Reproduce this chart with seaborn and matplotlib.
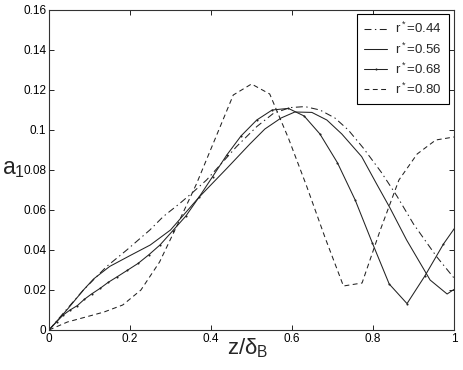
import numpy as np
import pandas as pd
import matplotlib
matplotlib.use("Agg")
import matplotlib.pyplot as plt
import seaborn as sns

# r* = 0.44 (dash-dot)
z_044 = [0, 0.04, 0.085, 0.142, 0.192, 0.249, 0.282, 0.323, 0.356, 0.389, 0.426, 0.463,
         0.513, 0.554, 0.595, 0.632, 0.669, 0.706, 0.739, 0.776, 0.82, 0.859, 0.90, 0.957, 1.0]
a_044 = [0, 0.0095, 0.020, 0.0317, 0.040, 0.050, 0.0567, 0.0633, 0.069, 0.075, 0.0833, 0.0917,
         0.1017, 0.1083, 0.1112, 0.1117, 0.110, 0.106, 0.100, 0.091, 0.079, 0.067, 0.053, 0.0367, 0.026]

# r* = 0.56 (solid)
z_056 = [0, 0.044, 0.085, 0.11, 0.15, 0.2, 0.25, 0.3, 0.37, 0.44, 0.496, 0.533,
         0.573, 0.607, 0.649, 0.686, 0.723, 0.772, 0.809, 0.842, 0.883, 0.941, 0.983, 1.0]
a_056 = [0, 0.010, 0.020, 0.0255, 0.0318, 0.0372, 0.0425, 0.050, 0.0663, 0.081, 0.093, 0.1005,
         0.106, 0.109, 0.1088, 0.105, 0.098, 0.0867, 0.073, 0.061, 0.045, 0.025, 0.018, 0.0203]

# r* = 0.68 (line with dots)
z_068 = [0, 0.019, 0.035, 0.052, 0.070, 0.087, 0.105, 0.126, 0.146, 0.169, 0.193, 0.220, 0.247,
         0.274, 0.305, 0.338, 0.370, 0.404, 0.439, 0.474, 0.513, 0.551, 0.591, 0.630, 0.669,
         0.712, 0.756, 0.798, 0.840, 0.884, 0.928, 0.974, 1.0]
a_068 = [0, 0.0042, 0.0075, 0.010, 0.0122, 0.0153, 0.018, 0.0208, 0.0238, 0.0267, 0.0298, 0.0333, 0.0377,
         0.0425, 0.0495, 0.057, 0.0663, 0.0767, 0.0875, 0.097, 0.105, 0.110, 0.1108, 0.107, 0.098,
         0.0837, 0.065, 0.0437, 0.023, 0.0132, 0.027, 0.0430, 0.0505]

# r* = 0.80 (dashed)
z_080 = [0, 0.0455, 0.091, 0.136, 0.182, 0.227, 0.273, 0.318, 0.364, 0.409, 0.455, 0.5, 0.545,
         0.591, 0.636, 0.682, 0.727, 0.773, 0.818, 0.864, 0.909, 0.955, 1.0]
a_080 = [0, 0.004, 0.0065, 0.009, 0.0125, 0.020, 0.034, 0.053, 0.073, 0.095, 0.1175, 0.123, 0.118,
         0.096, 0.072, 0.046, 0.022, 0.0235, 0.050, 0.075, 0.088, 0.095, 0.0965]

labels = ["r$^*$=0.44", "r$^*$=0.56", "r$^*$=0.68", "r$^*$=0.80"]
x_ticks = [0, 0.2, 0.4, 0.6, 0.8, 1]
x_ticklabels = ["0", "0.2", "0.4", "0.6", "0.8", "1"]
y_ticks = [0, 0.02, 0.04, 0.06, 0.08, 0.1, 0.12, 0.14, 0.16]
y_ticklabels = ["0", "0.02", "0.04", "0.06", "0.08", "0.1", "0.12", "0.14", "0.16"]

sns.set_theme(style="white")
plt.rcParams["font.family"] = ["Liberation Sans", "DejaVu Sans"]
plt.rcParams["mathtext.fontset"] = "custom"
plt.rcParams["mathtext.rm"] = "Liberation Sans"
plt.rcParams["mathtext.it"] = "Liberation Sans"
plt.rcParams["lines.scale_dashes"] = False

fig = plt.figure(figsize=(4.63, 3.70), dpi=100)
ax = fig.add_axes([49 / 463, 40 / 370, 405 / 463, 320 / 370])

lw = 0.75
sns.lineplot(x=z_044, y=a_044, ax=ax, color="#222222", lw=lw, linestyle=(0, (5, 2.5, 1, 2.5)),
             label=labels[0], sort=False)
sns.lineplot(x=z_056, y=a_056, ax=ax, color="#222222", lw=lw, linestyle="-",
             label=labels[1], sort=False)
sns.lineplot(x=z_068, y=a_068, ax=ax, color="#222222", lw=lw, linestyle="-", marker=".",
             markersize=3, markeredgewidth=0, label=labels[2], sort=False)
sns.lineplot(x=z_080, y=a_080, ax=ax, color="#222222", lw=lw, linestyle=(0, (3.5, 2.5)),
             label=labels[3], sort=False)

ax.set_xlim(0, 1)
ax.set_ylim(0, 0.16)
ax.set_xticks(x_ticks)
ax.set_xticklabels(x_ticklabels)
ax.set_yticks(y_ticks)
ax.set_yticklabels(y_ticklabels)
ax.tick_params(direction="in", length=3.5, width=0.6, labelsize=8.5, colors="black",
               top=True, right=True, bottom=True, left=True, pad=2)
for s in ax.spines.values():
    s.set_color("#333333")
    s.set_linewidth(0.8)

ax.set_xlabel("$\\mathregular{z/δ_B}$", fontsize=16)
ax.set_ylabel("$\\mathregular{a_1}$", fontsize=16.5, rotation=0)
ax.xaxis.set_label_coords(0.49, -0.02)
ax.xaxis.label.set_va("top")
ax.yaxis.set_label_coords(-0.116, 0.505)
ax.yaxis.label.set_ha("left")
ax.yaxis.label.set_va("center")

leg = ax.legend(loc="upper right", bbox_to_anchor=(0.988, 0.988), fontsize=9.5, frameon=True,
                fancybox=False, handlelength=1.75, handletextpad=0.6, labelspacing=0.38,
                borderpad=0.55, borderaxespad=0)
leg.get_frame().set_edgecolor("black")
leg.get_frame().set_linewidth(0.8)
leg.get_frame().set_alpha(1)

fig.savefig("out.png", dpi=100)
